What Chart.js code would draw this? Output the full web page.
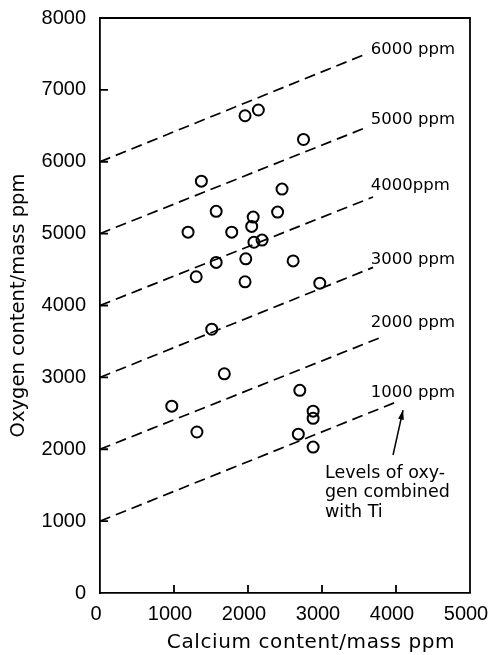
<!DOCTYPE html>
<html><head><meta charset="utf-8">
<script src="https://cdn.jsdelivr.net/npm/chart.js@4"></script>
<style>html,body{margin:0;padding:0;background:#fff}#wrap{width:488px;height:655px}</style>
</head><body><div id="wrap"><canvas id="c" width="488" height="655"></canvas></div>
<script>
// Measured data (Ca content vs O content, mass ppm)
const caContent = [1960,2140,2750,1370,2460,1570,2400,2070,2050,1190,1780,2080,2190,1570,1970,2610,1300,1960,2970,1510,1680,970,2700,2880,2880,1310,2680,2880];
const oContent  = [6640,6720,6310,5730,5620,5310,5300,5230,5100,5020,5020,4880,4910,4600,4650,4620,4400,4330,4310,3670,3050,2600,2820,2530,2430,2240,2210,2030];
// Iso-level lines of oxygen combined with Ti: start at (0, level), end
const levels    = [6000,5000,4000,3000,2000,1000];
const lineEndCa = [3620,3580,3690,3690,3780,4010];
const lineEndO  = [7510,6470,5510,4530,3550,2660];
const levelLabels = ['6000 ppm','5000 ppm','4000ppm','3000 ppm','2000 ppm','1000 ppm'];
const xTicks = [0,1000,2000,3000,4000,5000];
const yTicks = [0,1000,2000,3000,4000,5000,6000,7000,8000];
const noteLines = ['Levels of oxy-','gen combined','with Ti'];
const xTitle = 'Calcium content/mass ppm';
const yTitle = 'Oxygen content/mass ppm';

const FONT = 'DejaVu Sans';
const TICKFONT = 'Liberation Sans';
const datasets = [{
  label: 'samples',
  data: caContent.map((x,i)=>({x, y:oContent[i]})),
  pointStyle: 'circle', pointRadius: 5.5, pointBorderWidth: 2,
  pointBackgroundColor: 'rgba(255,255,255,0)', pointBorderColor: '#000', showLine: false
}];
levels.forEach((lv,i)=>{
  datasets.push({
    label: levelLabels[i],
    data: [{x:0,y:lv},{x:lineEndCa[i],y:lineEndO[i]}],
    showLine: true, borderColor: '#000', borderWidth: 1.7, borderDash: [11,6],
    pointRadius: 0, fill: false
  });
});

const labelLift = [4,8,11,8,15,9]; // px above line end (styling)
const decor = {
  id: 'decor',
  afterDraw(chart){
    const {ctx, chartArea:a, scales:{x, y}} = chart;
    ctx.save();
    ctx.strokeStyle = '#000'; ctx.lineWidth = 1.8;
    ctx.beginPath();
    ctx.moveTo(a.left, a.top); ctx.lineTo(a.right, a.top); ctx.lineTo(a.right, a.bottom);
    ctx.stroke();
    // inward tick marks
    ctx.beginPath();
    y.ticks.forEach(t=>{
      if (t.value <= 0 || t.value >= 8000) return;
      const py = y.getPixelForValue(t.value);
      ctx.moveTo(a.left, py); ctx.lineTo(a.left + 8, py);
    });
    x.ticks.forEach(t=>{
      if (t.value <= 0 || t.value >= 5000) return;
      const px = x.getPixelForValue(t.value);
      ctx.moveTo(px, a.bottom); ctx.lineTo(px, a.bottom - 8);
    });
    ctx.stroke();
    ctx.fillStyle = '#000';
    ctx.font = '16.5px "' + FONT + '"';
    ctx.textBaseline = 'middle'; ctx.textAlign = 'left';
    const lx = x.getPixelForValue(3660);
    levels.forEach((lv,i)=>{
      ctx.fillText(levelLabels[i], lx, y.getPixelForValue(lineEndO[i]) - labelLift[i]);
    });
    // note text
    const nx = x.getPixelForValue(3040);
    const ny = y.getPixelForValue(1670);
    ctx.font = '17.5px "' + FONT + '"';
    noteLines.forEach((t,i)=>ctx.fillText(t, nx, ny + i*19.5));
    // arrow
    const tx = x.getPixelForValue(3960), ty = y.getPixelForValue(1920);
    const hx = x.getPixelForValue(4095), hy = y.getPixelForValue(2545);
    ctx.lineWidth = 1.5;
    ctx.beginPath(); ctx.moveTo(tx,ty); ctx.lineTo(hx,hy); ctx.stroke();
    const ang = Math.atan2(hy-ty, hx-tx);
    ctx.beginPath();
    ctx.moveTo(hx,hy);
    ctx.lineTo(hx - 10*Math.cos(ang-0.3), hy - 10*Math.sin(ang-0.3));
    ctx.lineTo(hx - 10*Math.cos(ang+0.3), hy - 10*Math.sin(ang+0.3));
    ctx.closePath(); ctx.fill();
    // x axis title
    ctx.font = '20px "' + FONT + '"';
    ctx.letterSpacing = '0.6px';
    ctx.textAlign = 'center';
    ctx.fillText(xTitle, 311, 643);
    ctx.restore();
  }
};

new Chart(document.getElementById('c'), {
  type: 'scatter',
  data: { datasets },
  options: {
    responsive: false, animation: false,
    layout: { padding: { top: 18, right: 18, left: 0, bottom: 0 } },
    plugins: { legend: { display: false }, tooltip: { enabled: false } },
    scales: {
      x: {
        type: 'linear', min: 0, max: 5000,
        afterBuildTicks(s){ s.ticks = xTicks.map(v=>({value:v})); },
        afterFit(s){ s.height = 62; s.paddingLeft = 0; s.paddingRight = 0; },
        border: { display: true, color: '#000', width: 1.8 },
        grid: { display: false, drawTicks: false },
        ticks: { color: '#000', font: { family: TICKFONT, size: 20 }, padding: 9, labelOffset: -4, maxRotation: 0, autoSkip: false, callback: v => String(v) },
        title: { display: false, text: xTitle }
      },
      y: {
        type: 'linear', min: 0, max: 8000,
        afterBuildTicks(s){ s.ticks = yTicks.map(v=>({value:v})); },
        afterFit(s){ s.width = 100; s.paddingTop = 0; s.paddingBottom = 0; },
        border: { display: true, color: '#000', width: 1.8 },
        grid: { display: false, drawTicks: false },
        ticks: { color: '#000', font: { family: TICKFONT, size: 20 }, padding: 14, autoSkip: false, callback: v => String(v) },
        title: { display: true, text: yTitle, color: '#000', font: { family: FONT, size: 19.5 }, padding: { top: 7, bottom: 0 } }
      }
    }
  },
  plugins: [decor]
});
</script></body></html>
